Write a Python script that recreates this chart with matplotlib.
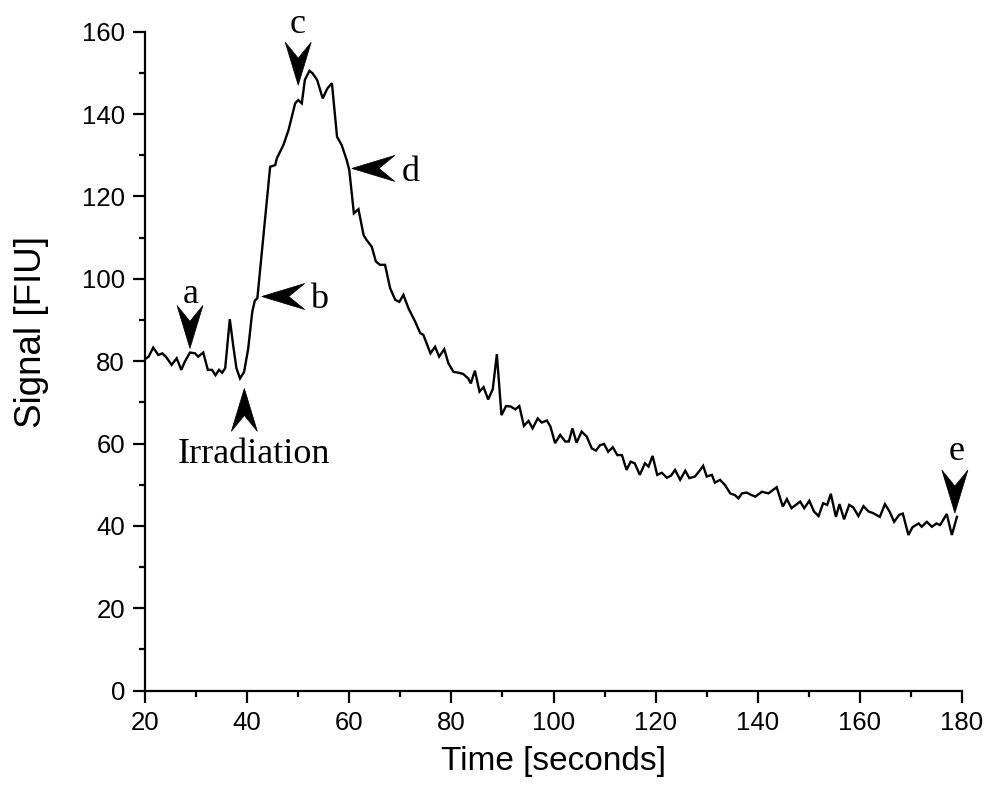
import matplotlib
matplotlib.use("Agg")
import matplotlib.pyplot as plt
from matplotlib.patches import Polygon
from matplotlib import transforms
from matplotlib.ticker import MultipleLocator

# Fluorescence signal over time
time_s = [
    20.0, 20.7, 21.6, 22.6, 23.4, 24.2, 25.2, 26.2, 27.1, 27.8, 28.8, 29.8,
    30.4, 31.4, 32.3, 33.1, 33.8, 34.5, 35.1, 35.7, 36.6, 37.3, 37.9, 38.6,
    39.4, 40.2, 41.0, 41.5, 42.0, 44.5, 45.5, 45.8, 47.1, 48.1, 49.4, 50.0,
    50.7, 51.3, 52.2, 52.8, 53.7, 54.8, 55.7, 56.6, 57.6, 58.5, 59.5, 60.0,
    60.9, 61.8, 62.8, 63.4, 64.4, 65.2, 66.0, 67.0, 68.0, 69.0, 69.8, 70.6,
    71.6, 72.9, 73.9, 74.5, 75.9, 76.8, 77.6, 78.6, 79.4, 80.4, 81.4, 82.3,
    83.3, 83.8, 84.6, 85.5, 86.3, 87.2, 88.1, 88.9, 89.8, 90.7, 91.6, 92.5,
    93.3, 94.2, 95.1, 95.9, 96.9, 97.7, 98.7, 99.4, 100.3, 101.3, 102.3, 103.0,
    103.7, 104.5, 105.5, 106.5, 107.5, 108.3, 109.1, 109.9, 110.7, 111.6, 112.5, 113.4,
    114.3, 115.1, 115.9, 116.9, 117.9, 118.6, 119.4, 120.3, 121.2, 122.2, 123.0, 123.8,
    124.8, 125.8, 126.6, 127.7, 128.6, 129.3, 130.0, 131.0, 131.6, 132.6, 133.6, 134.6,
    135.5, 136.2, 136.9, 137.8, 138.6, 139.5, 140.8, 142.1, 143.7, 144.9, 145.7, 146.6,
    148.3, 149.1, 150.1, 151.0, 151.9, 152.8, 153.6, 154.3, 155.3, 156.0, 156.9, 157.9,
    158.7, 159.7, 160.7, 161.7, 162.6, 163.9, 164.9, 165.8, 166.7, 167.7, 168.4, 169.5,
    170.3, 171.5, 172.1, 173.1, 174.1, 175.0, 175.7, 177.0, 178.0, 179.0,
]
signal = [
    80.5, 81.1, 83.3, 81.5, 81.9, 80.9, 79.1, 80.7, 77.9, 79.9, 82.1, 81.9,
    81.1, 82.1, 77.9, 77.9, 76.6, 77.9, 77.2, 78.3, 90.2, 83.5, 78.3, 75.8,
    77.4, 83.0, 92.0, 94.7, 95.3, 127.2, 127.6, 129.2, 132.5, 136.1, 142.6, 143.4,
    142.6, 148.3, 150.5, 149.9, 148.3, 143.8, 146.2, 147.5, 134.5, 132.5, 128.8, 126.4,
    115.9, 116.9, 110.6, 109.4, 107.8, 104.2, 103.4, 103.4, 97.7, 94.9, 94.4, 96.1,
    92.8, 89.6, 86.8, 86.4, 81.9, 83.5, 81.1, 82.9, 79.5, 77.4, 77.2, 76.9,
    75.8, 74.6, 77.7, 72.6, 73.7, 70.7, 73.2, 81.7, 66.9, 69.1, 69.0, 68.3,
    69.1, 64.3, 65.5, 63.7, 66.1, 65.1, 65.6, 64.1, 60.1, 62.1, 60.5, 60.5,
    63.7, 60.2, 62.9, 61.7, 58.8, 58.3, 59.6, 59.9, 58.0, 59.1, 57.2, 57.2,
    53.6, 55.6, 55.2, 52.4, 55.2, 54.4, 57.0, 52.4, 52.9, 51.7, 52.2, 53.6,
    51.2, 53.4, 51.6, 52.0, 53.4, 54.6, 52.0, 52.4, 50.5, 51.2, 49.9, 47.9,
    47.5, 46.7, 47.9, 48.1, 47.6, 47.1, 48.3, 47.9, 49.4, 44.7, 46.5, 44.3,
    45.9, 44.3, 46.1, 43.5, 42.4, 45.5, 45.1, 47.8, 42.2, 45.3, 41.6, 45.1,
    44.5, 42.4, 44.8, 43.5, 43.1, 42.2, 45.3, 43.5, 41.0, 42.7, 43.0, 37.8,
    39.7, 40.6, 39.8, 41.0, 39.8, 40.6, 40.2, 42.9, 37.8, 42.2,
]

# Event markers: label, arrow tip (time, signal), pointing direction, label anchor
marker_labels = ["a", "Irradiation", "b", "c", "d", "e"]
marker_tips = [(28.8, 83.1), (39.45, 73.4), (42.85, 95.7), (50.0, 147.0), (60.5, 126.8), (178.6, 43.1)]
marker_dirs = ["down", "up", "left", "down", "left", "down"]
label_pos = [(29.0, 94.1), (41.3, 55.3), (54.0, 92.9), (49.9, 159.7), (72.1, 123.7), (178.9, 56.0)]

fig = plt.figure(figsize=(9.92, 7.98), dpi=100)
ax = fig.add_axes([0.1462, 0.1345, 0.8236, 0.8258])

ax.plot(time_s, signal, color="black", lw=1.7, solid_joinstyle="miter")

ax.set_xlim(20, 180)
ax.set_ylim(0, 160)
ax.xaxis.set_major_locator(MultipleLocator(20))
ax.xaxis.set_minor_locator(MultipleLocator(10))
ax.yaxis.set_major_locator(MultipleLocator(20))
ax.yaxis.set_minor_locator(MultipleLocator(10))

for side in ("top", "right"):
    ax.spines[side].set_visible(False)
for side in ("left", "bottom"):
    ax.spines[side].set_linewidth(1.6)

sans = "Liberation Sans"
ax.tick_params(which="major", direction="out", length=8.5, width=1.6,
               labelsize=18.5, pad=6)
ax.tick_params(which="minor", direction="out", length=4.5, width=1.6)
for lab in ax.get_xticklabels() + ax.get_yticklabels():
    lab.set_fontfamily(sans)

ax.set_xlabel("Time [seconds]", fontsize=24, fontfamily=sans, labelpad=8)
ax.set_ylabel("Signal [FIU]", fontsize=26.5, fontfamily=sans)
ax.yaxis.set_label_coords(-0.118, 0.545)


def arrowhead(tip, direction, length=0.43, width=0.26, notch=0.63):
    """Filled notched arrowhead with its tip at a data point; sizes in inches."""
    L, h = length, width / 2
    if direction == "down":
        verts = [(0, 0), (-h, L), (0, notch * L), (h, L)]
    elif direction == "up":
        verts = [(0, 0), (-h, -L), (0, -notch * L), (h, -L)]
    else:  # pointing left
        verts = [(0, 0), (L, h), (notch * L, 0), (L, -h)]
    trans = fig.dpi_scale_trans + transforms.ScaledTranslation(tip[0], tip[1], ax.transData)
    ax.add_patch(Polygon(verts, closed=True, facecolor="black", edgecolor="black",
                         lw=0.5, transform=trans, clip_on=False))


for lab, tip, d, pos in zip(marker_labels, marker_tips, marker_dirs, label_pos):
    arrowhead(tip, d)
    ax.text(pos[0], pos[1], lab, ha="center", va="baseline", fontsize=26,
            fontfamily="Liberation Serif", clip_on=False)

fig.savefig("out.png", dpi=100)
